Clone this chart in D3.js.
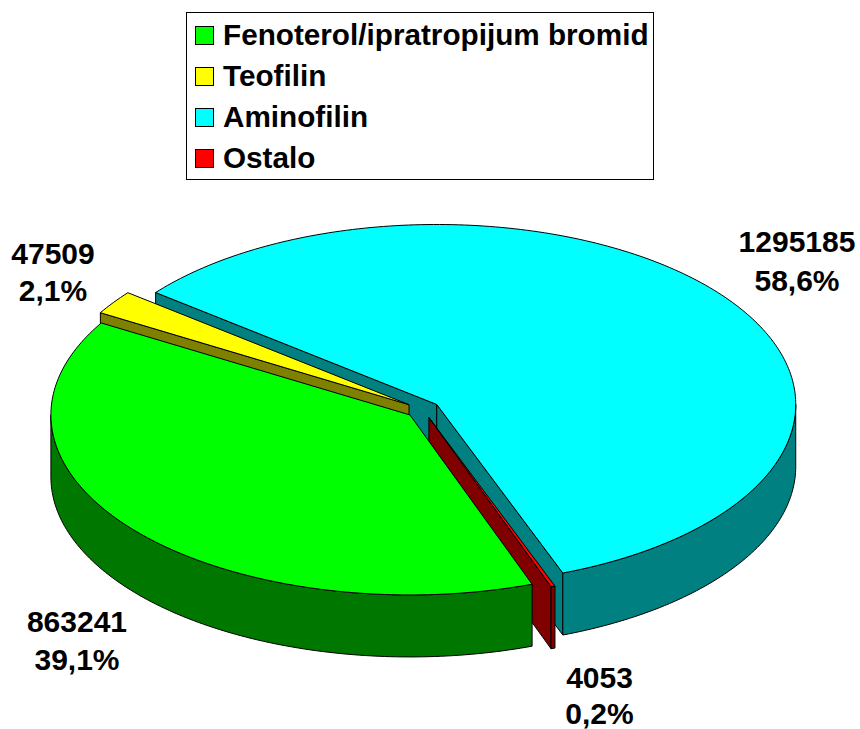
<!DOCTYPE html>
<html><head><meta charset="utf-8">
<script src="https://cdn.jsdelivr.net/npm/d3@7"></script>
<style>html,body{margin:0;background:#fff}svg{display:block}text{font-family:"Liberation Sans",Arial,sans-serif;font-weight:bold;fill:#000}</style>
</head><body><svg id="c" width="860" height="729"></svg>
<script>
const categories = ["Fenoterol/ipratropijum bromid","Teofilin","Aminofilin","Ostalo"];
const values = [863241,47509,1295185,4053];
const percents = ["39,1%","2,1%","58,6%","0,2%"];
const topColors = ["#00ff00","#ffff00","#00ffff","#ff0000"];
const wallColors = ["#007800","#808000","#008080","#800000"];

const svg = d3.select("#c");
const cx=423, cy=409.5, rx=359, ry=180, explode=17, depth=62;
const deg=Math.PI/180, start=160.1*deg;
const arcs = d3.pie().sort(null).startAngle(start).endAngle(start+2*Math.PI)(values);
const px=(o,a)=>[o[0]+rx*Math.sin(a), o[1]-ry*Math.cos(a)];
const line=d3.line();
const samples=(a,b)=>{const n=Math.max(2,Math.ceil((b-a)/deg));return d3.range(n+1).map(k=>a+(b-a)*k/n);};
const down=(p)=>[p[0],p[1]+depth];
const drawOrder=[2,1,3,0];
const gP=svg.append("g").attr("stroke","#000").attr("stroke-width",1).attr("stroke-linejoin","round");
drawOrder.forEach(i=>{
  const d=arcs[i], a0=d.startAngle, a1=d.endAngle, mid=(a0+a1)/2;
  const O=[cx+explode*Math.sin(mid), cy-explode*ry/rx*Math.cos(mid)];
  const g=gP.append("g");
  [[a0,-Math.sin(a0)],[a1,Math.sin(a1)]].forEach(([a,vis])=>{
    if(vis>0){const e=px(O,a);g.append("path").attr("fill",wallColors[i])
      .attr("d",line([O,e,down(e),down(O)])+"Z");}
  });
  for(let t=0;t<=2;t++){
    const lo=Math.max(a0,Math.PI/2+2*Math.PI*t), hi=Math.min(a1,3*Math.PI/2+2*Math.PI*t);
    if(hi>lo){
      const top=samples(lo,hi).map(a=>px(O,a));
      g.append("path").attr("fill",wallColors[i])
       .attr("d",line(top.concat(top.slice().reverse().map(down)))+"Z");
    }
  }
  g.append("path").attr("fill",topColors[i])
   .attr("d",line([O,...samples(a0,a1).map(a=>px(O,a))])+"Z");
});
const labelPos=[[77,632,670],[53,264,301],[797,252,291],[599.5,688,724]];
values.forEach((v,i)=>{
  const t=svg.append("text").attr("text-anchor","middle").attr("font-size",30);
  t.append("tspan").attr("x",labelPos[i][0]).attr("y",labelPos[i][1]).text(v);
  t.append("tspan").attr("x",labelPos[i][0]).attr("y",labelPos[i][2]).text(percents[i]);
});
svg.append("rect").attr("x",186.5).attr("y",12.5).attr("width",467).attr("height",167).attr("fill","#fff").attr("stroke","#000");
const legendY=d3.scalePoint().domain(categories).range([36,159]);
categories.forEach((c,i)=>{
  const y=legendY(c);
  svg.append("rect").attr("x",195.5).attr("y",y-9.5).attr("width",18).attr("height",18).attr("fill",topColors[i]).attr("stroke","#000");
  svg.append("text").attr("x",223).attr("y",y+9).attr("font-size",29.7).text(c);
});
</script></body></html>
